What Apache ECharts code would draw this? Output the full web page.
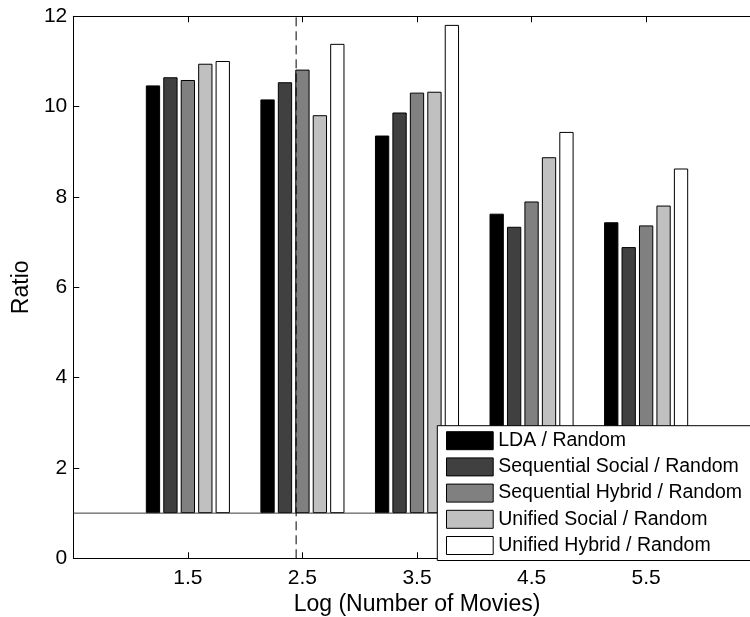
<!DOCTYPE html>
<html>
<head>
<meta charset="utf-8">
<script src="https://cdn.jsdelivr.net/npm/echarts@6/dist/echarts.min.js"></script>
<style>html,body{margin:0;padding:0;background:#fff}#c{width:750px;height:617px}</style>
</head>
<body>
<div id="c"></div>
<script>
// ---- data ----
const categories = ['0.5', '1.5', '2.5', '3.5', '4.5', '5.5', '6.5'];
const seriesNames = ['LDA / Random', 'Sequential Social / Random', 'Sequential Hybrid / Random', 'Unified Social / Random', 'Unified Hybrid / Random'];
const ldaRandom = [null, 10.47, 10.16, 9.36, 7.63, 7.44, null];
const seqSocialRandom = [null, 10.65, 10.54, 9.87, 7.34, 6.89, null];
const seqHybridRandom = [null, 10.59, 10.82, 10.31, 7.90, 7.37, null];
const uniSocialRandom = [null, 10.95, 9.81, 10.33, 8.88, 7.81, null];
const uniHybridRandom = [null, 11.01, 11.39, 11.81, 9.44, 8.63, null];
const baselineValue = 1;
const dashedX = 2.445;
const xRange = [0.5, 6.5];
const yMin = 0, yMax = 12, yStep = 2;
const seriesColors = ['#000000', '#404040', '#808080', '#c0c0c0', '#ffffff'];

// ---- chart ----
const allValues = [ldaRandom, seqSocialRandom, seqHybridRandom, uniSocialRandom, uniHybridRandom];
const FONT = "'Liberation Sans', Arial, Helvetica, sans-serif";
const showIdx = (i) => i > 0 && i < categories.length - 1;

const series = [];
allValues.forEach((vals, i) => {
  series.push({
    name: 'base' + i, type: 'bar', stack: 's' + i, silent: true,
    barWidth: 14.3, barGap: '22%',
    data: vals.map(v => v == null ? '-' : baselineValue),
    itemStyle: { color: 'transparent', borderWidth: 0 }
  });
  series.push({
    name: seriesNames[i], type: 'bar', stack: 's' + i,
    barWidth: 14.3, barGap: '22%',
    data: vals.map(v => v == null ? '-' : +(v - baselineValue).toFixed(4)),
    itemStyle: { color: seriesColors[i], borderColor: '#000', borderWidth: 1 },
    z: 3
  });
});
series.push({
  type: 'line', xAxisIndex: 2, silent: true, symbol: 'none', z: 5,
  data: [[xRange[0], baselineValue], [xRange[1], baselineValue]],
  lineStyle: { color: '#3a3a3a', width: 1 }
});
series.push({
  type: 'line', xAxisIndex: 2, silent: true, symbol: 'none', z: 6,
  data: [[dashedX, yMin], [dashedX, yMax]],
  lineStyle: { color: '#000', width: 1, type: [9, 5] }
});

const chart = echarts.init(document.getElementById('c'), null, { renderer: 'canvas' });
chart.setOption({
  animation: false,
  backgroundColor: '#fff',
  textStyle: { fontFamily: FONT },
  grid: { left: 73.3, top: 16.3, width: 687.4, height: 542, containLabel: false, outerBoundsMode: 'none' },
  legend: {
    data: seriesNames, orient: 'vertical', left: 437.3, top: 425.7, z: 20,
    itemWidth: 46.7, itemHeight: 18, itemGap: 6.2, icon: 'rect',
    padding: [5, 20, 5, 8.7], borderColor: '#000', borderWidth: 1, backgroundColor: '#fff',
    selectedMode: false,
    itemStyle: { borderColor: '#000', borderWidth: 1 },
    textStyle: { fontSize: 19.5, color: '#000', fontFamily: FONT }
  },
  xAxis: [
    {
      type: 'category', position: 'bottom', data: categories, boundaryGap: false,
      name: 'Log (Number of Movies)', nameLocation: 'middle', nameGap: 34,
      nameTextStyle: { fontSize: 23, color: '#000', verticalAlign: 'top', fontFamily: FONT },
      axisLine: { lineStyle: { color: '#000', width: 1 } },
      axisTick: { inside: true, length: 6, interval: showIdx, lineStyle: { color: '#000' } },
      axisLabel: { interval: showIdx, fontSize: 21, color: '#000', margin: 9, fontFamily: FONT },
      splitLine: { show: false }
    },
    {
      type: 'category', position: 'top', data: categories, boundaryGap: false,
      axisLine: { lineStyle: { color: '#000', width: 1 } },
      axisTick: { inside: true, length: 6, interval: showIdx, lineStyle: { color: '#000' } },
      axisLabel: { show: false }, splitLine: { show: false }
    },
    { type: 'value', min: xRange[0], max: xRange[1], show: false }
  ],
  yAxis: {
    type: 'value', min: yMin, max: yMax, interval: yStep,
    name: 'Ratio', nameLocation: 'middle', nameGap: 40, nameRotate: 90,
    nameTextStyle: { fontSize: 23, color: '#000', fontFamily: FONT },
    axisLine: { show: true, lineStyle: { color: '#000', width: 1 } },
    axisTick: { show: true, inside: true, length: 6, lineStyle: { color: '#000' } },
    axisLabel: { fontSize: 21, color: '#000', margin: 6, fontFamily: FONT },
    splitLine: { show: false }
  },
  series: series
});
</script>
</body>
</html>
